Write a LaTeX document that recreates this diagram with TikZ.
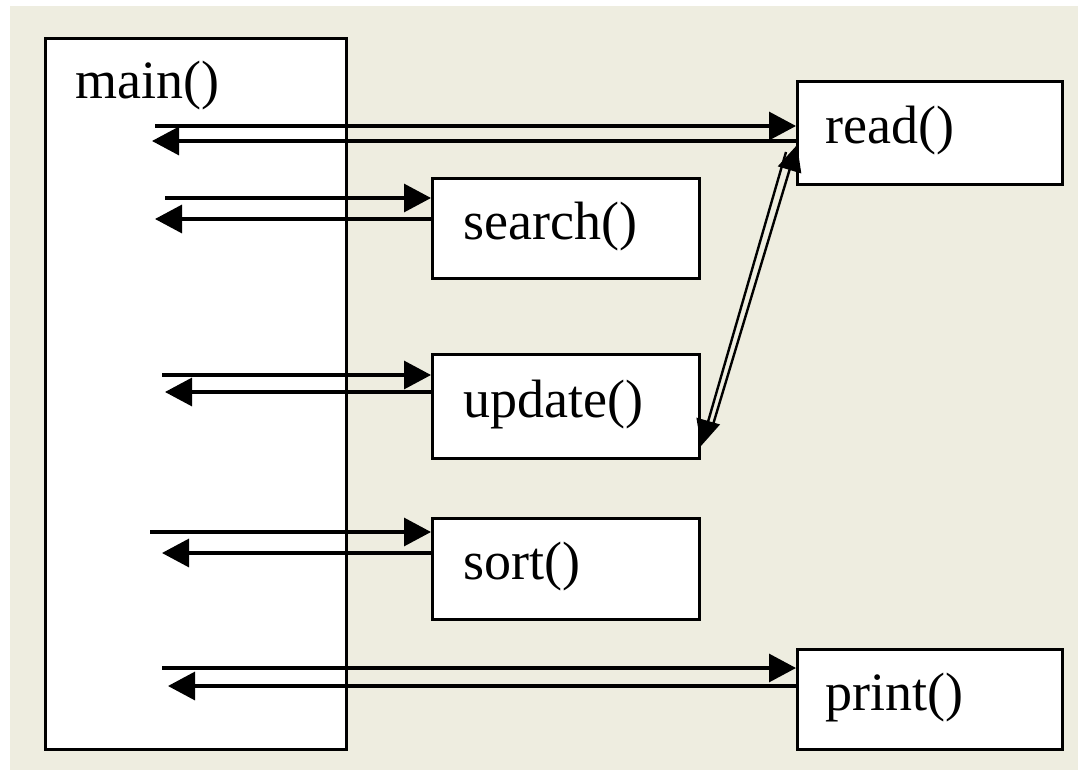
\documentclass[tikz,border=0pt]{standalone}
\usepackage{fontspec}
\setmainfont{Liberation Serif}
\usetikzlibrary{arrows.meta}
\definecolor{paper}{RGB}{238,237,224}
\begin{document}
\begin{tikzpicture}[x=1pt,y=-1pt,
  box/.style={draw, line width=3pt, fill=white, inner sep=0pt, anchor=north west},
  lbl/.style={font=\fontsize{54}{60}\selectfont, anchor=west, inner sep=0pt},
  arr/.style={line width=3.2pt, -{Triangle[length=27pt,width=28pt]}},
  diag/.style={line width=2.4pt, -{Triangle[length=26pt,width=24pt]}}]
\useasboundingbox (0,0) rectangle (1078,770);
\fill[white] (0,0) rectangle (1078,770);
\fill[paper] (10,6) rectangle (1078,770);

% function boxes
\node[box, minimum width=301pt, minimum height=711pt] (main)   at (44,37)  {};
\node[box, minimum width=265pt, minimum height=103pt] (read)   at (796,80) {};
\node[box, minimum width=267pt, minimum height=100pt] (search) at (431,177) {};
\node[box, minimum width=267pt, minimum height=104pt] (update) at (431,353) {};
\node[box, minimum width=267pt, minimum height=101pt] (sort)   at (431,517) {};
\node[box, minimum width=265pt, minimum height=100pt] (print)  at (796,648) {};

% labels
\node[lbl] (mainlbl)   at (75,86)   {main()};
\node[lbl] (readlbl)   at (825,131) {read()};
\node[lbl] (searchlbl) at (463,227) {search()};
\node[lbl] (updatelbl) at (463,405) {update()};
\node[lbl] (sortlbl)   at (463,567) {sort()};
\node[lbl] (printlbl)  at (825,698) {print()};

% call / return points inside main
\coordinate (c1) at (155,126); \coordinate (r1) at (152,141);
\coordinate (c2) at (165,198); \coordinate (r2) at (155,219);
\coordinate (c3) at (162,375); \coordinate (r3) at (165,392);
\coordinate (c4) at (150,532); \coordinate (r4) at (162,553);
\coordinate (c5) at (162,668); \coordinate (r5) at (168,686);

% calls and returns
\draw[arr] (c1) -- (c1 -| read.west);
\draw[arr] (r1 -| read.west) -- (r1);
\draw[arr] (c2) -- (c2 -| search.west);
\draw[arr] (r2 -| search.west) -- (r2);
\draw[arr] (c3) -- (c3 -| update.west);
\draw[arr] (r3 -| update.west) -- (r3);
\draw[arr] (c4) -- (c4 -| sort.west);
\draw[arr] (r4 -| sort.west) -- (r4);
\draw[arr] (c5) -- (c5 -| print.west);
\draw[arr] (r5 -| print.west) -- (r5);

% update <-> read
\coordinate (ua) at (712,428);
\coordinate (rb) at (786,152);
\draw[diag] (ua) -- ([xshift=1pt,yshift=-12pt]read.west);
\draw[diag] (rb) -- ([yshift=14pt]update.south east);
\end{tikzpicture}
\end{document}
